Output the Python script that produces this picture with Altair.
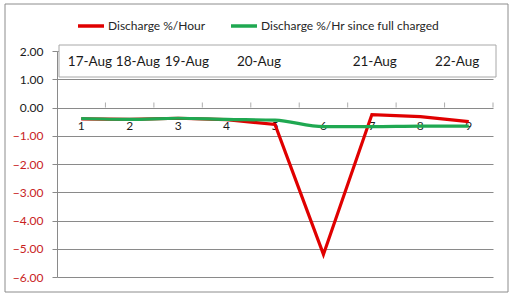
import altair as alt
import pandas as pd

hours = [1, 2, 3, 4, 5, 6, 7, 8, 9]
red_vals = [-0.40, -0.42, -0.38, -0.43, -0.60, -5.20, -0.25, -0.32, -0.50]
green_vals = [-0.39, -0.42, -0.38, -0.42, -0.45, -0.68, -0.68, -0.66, -0.66]
series_names = ["Discharge %/Hour", "Discharge %/Hr since full charged"]
series_colors = ["#e00000", "#1fa851"]
date_labels = ["17-Aug", "18-Aug", "19-Aug", "20-Aug", "21-Aug", "22-Aug"]
date_pos = [1.18, 2.17, 3.18, 4.67, 7.06, 8.76]
date_y = [1.60] * 6
tick_pos = [1.5, 2.5, 3.5, 4.5, 5.5, 6.5, 7.5, 8.5, 9.5]
y_ticks = [-6, -5, -4, -3, -2, -1, 0, 1, 2]

FONT = "Lato"

rows = []
for h, r, g in zip(hours, red_vals, green_vals):
    rows.append({"hour": h, "value": r, "series": series_names[0]})
    rows.append({"hour": h, "value": g, "series": series_names[1]})
df = pd.DataFrame(rows)
df_hours = pd.DataFrame({"hour": hours, "value": [0] * len(hours)})
df_ticks = pd.DataFrame({"x": tick_pos, "value": [0] * len(tick_pos)})
df_dates = pd.DataFrame({"x": date_pos, "value": date_y, "label": date_labels})

xscale = alt.Scale(domain=[0.5, 9.5], nice=False, zero=False)
yscale = alt.Scale(domain=[-6, 2], nice=False, zero=False)

y_axis = alt.Axis(
    values=y_ticks,
    format=".2f",
    title=None,
    grid=True,
    gridColor="#8a8a8a",
    gridWidth=1,
    domainColor="#8a8a8a",
    tickColor="#8a8a8a",
    tickSize=5,
    labelPadding=9,
    labelFont=FONT,
    labelFontSize=12,
    labelColor={"condition": {"test": "datum.value < 0", "value": "#c81e1e"}, "value": "#1a1a1a"},
)


def Y():
    return alt.Y("value:Q", scale=yscale, axis=y_axis, title=None)


def X(field):
    return alt.X(field, scale=xscale, axis=None, title=None)


border = alt.Chart(pd.DataFrame({"a": [0]})).mark_rect(
    fillOpacity=0, stroke="#8c8c8c", strokeWidth=1
).encode(
    x=alt.value(-52), x2=alt.value(451), y=alt.value(-47), y2=alt.value(241)
)

date_box = alt.Chart(pd.DataFrame({"a": [0]})).mark_rect(
    fill="white", stroke="#a8a8a8", strokeWidth=1
).encode(
    x=alt.value(2), x2=alt.value(439), y=alt.value(-6), y2=alt.value(26)
)

dates = alt.Chart(df_dates).mark_text(
    font=FONT, fontSize=13.5, color="#1a1a1a", baseline="middle"
).encode(
    x=X("x:Q"),
    y=Y(),
    text="label:N",
)

xticks = alt.Chart(df_ticks).mark_tick(
    color="#8a8a8a", size=5, thickness=1, yOffset=-2.5, orient="vertical"
).encode(
    x=X("x:Q"),
    y=Y(),
)

xlabels = alt.Chart(df_hours).mark_text(
    font=FONT, fontSize=12, color="#1a1a1a", baseline="middle", dy=18
).encode(
    x=X("hour:Q"),
    y=Y(),
    text="hour:N",
)

color_enc = alt.Color(
    "series:N",
    scale=alt.Scale(domain=series_names, range=series_colors),
    legend=alt.Legend(
        title=None,
        orient="none",
        direction="horizontal",
        legendX=19,
        legendY=-40,
        symbolType="stroke",
        symbolSize=676,
        symbolStrokeWidth=3.5,
        symbolOffset=0,
        labelFont=FONT,
        labelFontSize=12,
        labelColor="#262626",
        labelLimit=400,
        columnPadding=18,
        labelOffset=2,
    ),
)

red_line = alt.Chart(df[df.series == series_names[0]]).mark_line(
    strokeWidth=3.2, strokeJoin="miter"
).encode(
    x=X("hour:Q"),
    y=Y(),
    color=color_enc,
)

green_line = alt.Chart(df[df.series == series_names[1]]).mark_line(
    strokeWidth=3.2, interpolate="monotone"
).encode(
    x=X("hour:Q"),
    y=Y(),
    color=color_enc,
)

chart = alt.layer(
    border, date_box, dates, xticks, xlabels, red_line, green_line
).properties(
    width=436,
    height=226,
    padding={"left": 57, "top": 51, "right": 20, "bottom": 21},
    autosize=alt.AutoSizeParams(type="none"),
    background="white",
).configure_view(stroke=None)

chart.save("out.html", embed_options={"renderer": "svg", "actions": False})
